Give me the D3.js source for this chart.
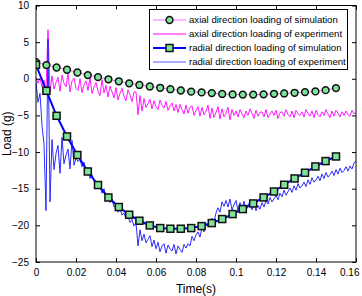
<!DOCTYPE html>
<html>
<head>
<meta charset="utf-8">
<script src="https://cdn.jsdelivr.net/npm/d3@7"></script>
<style>
    body { margin: 0; background: #fff; }
    text { font-family: "Liberation Sans", Arial, sans-serif; }
</style>
</head>
<body>
<div id="chart"></div>
<script>
const width = 362,
    height = 296;
const margin = { top: 5.5, right: 6, bottom: 34, left: 36 };

// simulation output, sampled at the marker times
const simTime = [0, 0.0052, 0.0103, 0.0155, 0.0207, 0.0259, 0.0310, 0.0362, 0.0414, 0.0466,
    0.0517, 0.0569, 0.0621, 0.0672, 0.0724, 0.0776, 0.0828, 0.0879, 0.0931, 0.0983,
    0.1034, 0.1086, 0.1138, 0.1190, 0.1241, 0.1293, 0.1345, 0.1397, 0.1448, 0.1500];
const axialSim = [2.28, 1.87, 1.54, 1.23, 0.86, 0.50, 0.23, -0.07, -0.34, -0.62,
    -0.84, -1.05, -1.23, -1.42, -1.60, -1.76, -1.86, -1.95, -2.07, -2.14,
    -2.16, -2.16, -2.12, -2.05, -2.00, -1.91, -1.82, -1.72, -1.55, -1.27];
const radialSim = [1.91, -1.64, -5.05, -7.87, -10.4, -12.65, -14.5, -16.2, -17.5, -18.55,
    -19.37, -20.01, -20.37, -20.46, -20.46, -20.37, -20.1, -19.69, -19.14, -18.46,
    -17.78, -17.01, -16.19, -15.38, -14.46, -13.6, -12.82, -11.96, -11.23, -10.6];

// experiment, one sample every millisecond from 0 to 0.16 s
const expStep = 0.001;
const axialExp = [0.2, -0.6, 0.1, -1.1, -0.2, -1.6, 6.7, -1.8,
    0.4, -1.4, -0.5, 0.2, -1.7, 0.5, -0.6, -1.1, 0.7, -1.8, -0.3, 0.1, -1.3,
    -1.6, 0.0, -1.9, -0.8, -0.3, -1.6, 0.2, -2.0, -1.1, -0.5, -1.7, -2.3, -0.1, -1.9, -0.9,
    -2.5, -1.0, -1.8, -2.6, -1.2, -2.9, -2.0, -1.3, -2.4, -3.0, -1.5, -2.2, -3.1, -1.8,
    -1.8, -4.9, -2.3, -4.4,
    -2.7, -3.9, -3.4, -2.8, -4.1, -3.0, -3.8, -4.2, -2.9, -3.6, -4.0, -3.1, -4.3, -3.7, -3.3, -4.4, -3.5,
    -4.6, -3.5, -4.2, -4.8, -3.6, -4.7, -3.9, -3.7, -5.0, -4.3, -3.8, -5.1, -3.9, -4.9, -4.4,
    -3.6, -5.4, -4.0, -5.3, -4.6, -3.8, -5.5, -4.1, -5.2, -4.7, -3.9, -5.6, -4.2, -5.0, -4.4,
    -5.2, -4.2, -4.8, -5.3, -4.4, -5.0, -4.1, -4.7, -5.4, -4.3, -5.1, -4.6, -4.5, -5.2, -4.2,
    -5.3, -4.8, -4.4, -5.0, -4.3, -5.4, -4.6, -4.5, -5.1, -4.2, -4.9, -5.2, -4.4, -5.3, -4.3,
    -4.8, -5.0, -4.5, -5.2, -4.2, -4.7, -5.1, -4.4, -5.3, -4.3, -4.9, -5.2, -4.5, -5.0, -4.2,
    -4.8, -5.3, -4.4, -5.1, -4.3, -4.7, -5.2, -4.5, -5.0, -4.4, -4.9, -5.1, -4.3, -4.8, -4.6];
const radialExp = [-0.5, -3.2, -2.0, -6.4, -8.9, -18.0, 5.4, -16.8,
    -8.3, -12.4, -10.2, -9.1, -12.9, -8.0, -11.6, -10.4, -9.6, -12.3, -8.4, -11.8, -10.8,
    -11.3, -11.0, -12.0, -11.4, -12.8, -12.2, -13.6, -13.1, -13.9, -14.4, -14.9, -14.5, -15.6,
    -15.0, -16.2, -16.0, -16.9, -16.4, -17.5, -17.3, -18.2, -17.7, -18.6, -18.3, -19.1,
    -18.8, -19.6, -19.2, -20.1, -19.7, -22.8, -20.6, -22.1, -21.2, -22.4, -21.9, -21.4, -22.9, -22.0, -23.2,
    -22.3, -23.6, -22.8, -22.5, -23.8, -22.7, -23.2, -23.5, -22.6, -23.9, -22.8, -23.3, -23.7, -22.6, -23.1,
    -22.5, -22.8, -21.5, -22.1, -21.3, -20.9, -21.6, -20.3, -20.9, -19.7,
    -20.2, -19.4, -19.0, -19.6, -18.3, -17.6, -18.2, -16.8, -17.4, -16.6,
    -17.5, -16.4, -17.9, -17.2, -16.6, -18.0, -16.9, -17.8, -16.7, -18.1, -17.2, -16.8, -17.9, -17.0, -18.0,
    -17.3, -17.8, -16.9, -17.5, -16.6, -17.1, -16.2, -16.8, -16.4, -15.9,
    -16.5, -15.6, -16.1, -15.2, -15.9, -15.4, -14.9, -15.5, -14.6, -15.2,
    -14.3, -14.9, -14.6, -14.1, -14.7, -13.8, -14.4, -13.5, -14.1, -13.8,
    -13.3, -13.9, -13.0, -13.6, -12.8, -13.4, -13.1, -12.6, -13.2, -12.4,
    -13.0, -12.2, -12.8, -12.5, -12.0, -12.6, -11.9, -12.3, -11.5, -11.2];

const xTicks = [0, 0.02, 0.04, 0.06, 0.08, 0.1, 0.12, 0.14, 0.16];
const yTicks = [-25, -20, -15, -10, -5, 0, 5, 10];
const legendLabels = ["axial direction loading of simulation", "axial direction loading of experiment",
    "radial direction loading of simulation", "radial direction loading of experiment"];

const pink = "#ff70ff",
    magenta = "#ff00ff",
    blue = "#0000ff",
    expBlue = "#1414ff",
    markerGreen = "#7ee39a";

const svg = d3.select("#chart")
    .append("svg")
    .attr("width", width)
    .attr("height", height);

const x = d3.scaleLinear().domain([0, 0.16]).range([margin.left, width - margin.right]);
const y = d3.scaleLinear().domain([-25, 10]).range([height - margin.bottom, margin.top]);

svg.append("clipPath").attr("id", "plot-clip")
    .append("rect")
    .attr("x", margin.left).attr("y", margin.top)
    .attr("width", x.range()[1] - margin.left)
    .attr("height", y.range()[0] - margin.top);

const plot = svg.append("g").attr("clip-path", "url(#plot-clip)");

const expLine = d3.line().x((d, i) => x(i * expStep)).y(d => y(d));
const simLine = d3.line().x((d, i) => x(simTime[i])).y(d => y(d));

// experiment traces first so the simulation sits on top
plot.append("path").datum(axialExp)
    .attr("d", expLine).attr("fill", "none")
    .attr("stroke", magenta).attr("stroke-width", 0.9);
plot.append("path").datum(radialExp)
    .attr("d", expLine).attr("fill", "none")
    .attr("stroke", expBlue).attr("stroke-width", 0.9);

plot.append("path").datum(axialSim)
    .attr("d", simLine).attr("fill", "none")
    .attr("stroke", pink).attr("stroke-width", 1);
plot.append("path").datum(radialSim)
    .attr("d", simLine).attr("fill", "none")
    .attr("stroke", blue).attr("stroke-width", 2);

plot.selectAll(".circ")
    .data(axialSim)
    .join("circle")
    .attr("cx", (d, i) => x(simTime[i]))
    .attr("cy", d => y(d))
    .attr("r", 3.4)
    .attr("fill", markerGreen)
    .attr("stroke", "#111")
    .attr("stroke-width", 1.5);

plot.selectAll(".sq")
    .data(radialSim)
    .join("rect")
    .attr("x", (d, i) => x(simTime[i]) - 3.5)
    .attr("y", d => y(d) - 3.5)
    .attr("width", 7)
    .attr("height", 7)
    .attr("fill", markerGreen)
    .attr("stroke", "#111")
    .attr("stroke-width", 1.5);

// axes: MATLAB style box with inward ticks on all sides
const fmt = d => d === 0 ? "0" : String(+d.toFixed(2));
const tickLen = 4;

svg.append("g")
    .attr("class", "x-bottom")
    .attr("transform", `translate(0,${y(-25)})`)
    .call(d3.axisBottom(x).tickValues(xTicks).tickFormat(fmt).tickSizeInner(-tickLen).tickSizeOuter(0).tickPadding(7))
    .call(g => g.select(".domain").remove());
svg.append("g")
    .attr("transform", `translate(0,${y(10)})`)
    .call(d3.axisTop(x).tickValues(xTicks).tickFormat("").tickSizeInner(-tickLen).tickSizeOuter(0))
    .call(g => g.select(".domain").remove());
svg.append("g")
    .attr("transform", `translate(${x(0)},0)`)
    .call(d3.axisLeft(y).tickValues(yTicks).tickFormat(d3.format("d")).tickSizeInner(-tickLen).tickSizeOuter(0).tickPadding(7))
    .call(g => g.select(".domain").remove());
svg.append("g")
    .attr("transform", `translate(${x(0.16)},0)`)
    .call(d3.axisRight(y).tickValues(yTicks).tickFormat("").tickSizeInner(-tickLen).tickSizeOuter(0))
    .call(g => g.select(".domain").remove());

svg.selectAll(".tick text")
    .attr("font-size", 10)
    .attr("fill", "#000")
    .attr("font-family", "'Liberation Sans', Arial, sans-serif");
svg.selectAll(".tick line").attr("stroke", "#000");

// last x label sits flush with the right edge, as in the original figure
svg.selectAll(".x-bottom .tick text")
    .filter(d => d === 0.16)
    .attr("text-anchor", "end")
    .attr("dx", "0.3em");

svg.append("rect")
    .attr("x", x(0)).attr("y", y(10))
    .attr("width", x(0.16) - x(0)).attr("height", y(-25) - y(10))
    .attr("fill", "none").attr("stroke", "#000").attr("stroke-width", 1);

svg.append("text")
    .attr("x", (x(0) + x(0.16)) / 2)
    .attr("y", 293)
    .attr("text-anchor", "middle")
    .attr("font-size", 12)
    .text("Time(s)");

svg.append("text")
    .attr("transform", `translate(11,${(y(10) + y(-25)) / 2}) rotate(-90)`)
    .attr("text-anchor", "middle")
    .attr("font-size", 12)
    .text("Load (g)");

// legend
const legend = svg.append("g");
legend.append("rect")
    .attr("x", 149.5).attr("y", 9.5)
    .attr("width", 198).attr("height", 60)
    .attr("fill", "#fff").attr("stroke", "#000").attr("stroke-width", 1);

const legendStyles = [
    { color: pink, w: 1, marker: "circle" },
    { color: magenta, w: 1, marker: null },
    { color: blue, w: 2, marker: "square" },
    { color: "#5c5cff", w: 1.2, marker: null }
];

legendLabels.forEach((label, i) => {
    const ly = 20 + i * 14;
    const s = legendStyles[i];
    legend.append("line")
        .attr("x1", 153).attr("x2", 186)
        .attr("y1", ly).attr("y2", ly)
        .attr("stroke", s.color).attr("stroke-width", s.w);
    if (s.marker === "circle") {
        legend.append("circle").attr("cx", 169.5).attr("cy", ly).attr("r", 3.4)
            .attr("fill", markerGreen).attr("stroke", "#111").attr("stroke-width", 1.5);
    } else if (s.marker === "square") {
        legend.append("rect").attr("x", 166).attr("y", ly - 3.5).attr("width", 7).attr("height", 7)
            .attr("fill", markerGreen).attr("stroke", "#111").attr("stroke-width", 1.5);
    }
    legend.append("text")
        .attr("x", 189)
        .attr("y", ly + 3.4)
        .attr("font-size", 9.6)
        .text(label);
});
</script>
</body>
</html>
